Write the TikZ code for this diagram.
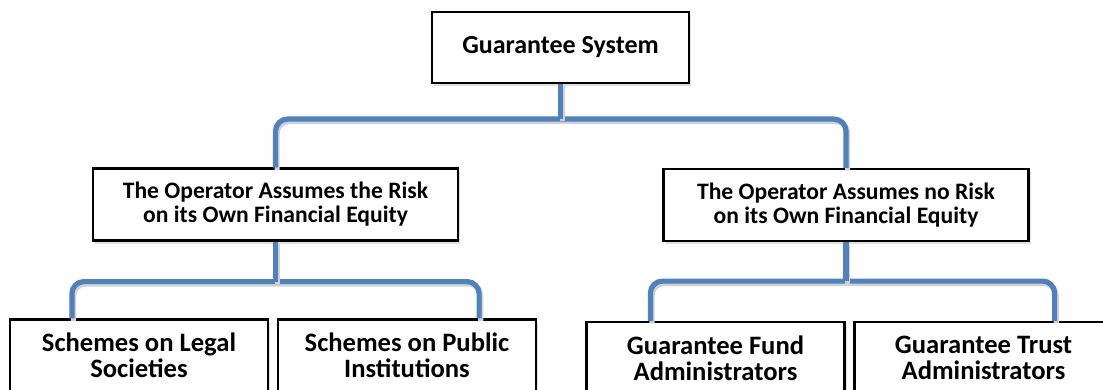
\documentclass[tikz,border=0pt]{standalone}
\usepackage{fontspec}
\setmainfont{Carlito}
\usetikzlibrary{calc,positioning,shadows}
\definecolor{LinkBlue}{HTML}{4F81BD}

\begin{document}
\begin{tikzpicture}[x=0.5pt,y=-0.5pt,
  box/.style={draw=black,line width=1.1pt,fill=white,inner sep=0pt,align=center,
    drop shadow={opacity=.25,shadow xshift=1.2pt,shadow yshift=-1.5pt}},
  topbox/.style={box,minimum width=128.5pt,minimum height=35.5pt,font=\bfseries\fontsize{13}{15}\selectfont},
  midbox/.style={box,minimum width=182.5pt,minimum height=36pt,font=\bfseries\fontsize{11.8}{12}\selectfont},
  leafbox/.style={box,minimum width=129pt,minimum height=36pt,font=\bfseries\fontsize{13.3}{13}\selectfont},
  link/.style={draw=LinkBlue,line width=2.6pt,rounded corners=6pt,
    preaction={draw=black!18,line width=2.6pt,transform canvas={shift={(0.8pt,-1.2pt)}}}}]
  \useasboundingbox (0,0) rectangle (1103,390);
  \clip (0,0) rectangle (1103,390);
  % boxes
  \node[topbox] (sys) at (560.5,47.5) {Guarantee System};
  \node[midbox] (opr) at (275.5,204.5) {The Operator Assumes the Risk\\on its Own Financial Equity};
  \node[midbox] (opn) at (846,205) {The Operator Assumes no Risk\\on its Own Financial Equity};
  \node[leafbox] (leg) at (139,355.5) {Schemes on Legal\\Societies};
  \node[leafbox] (pub) at (407,355.5) {Schemes on Public\\Institutions};
  \node[leafbox] (fund) at (715.5,358) {Guarantee Fund\\Administrators};
  \node[leafbox] (trust) at (983.5,358) {Guarantee Trust\\Administrators};
  % connectors
  \coordinate (j0) at ($(sys.south)+(0,35)$);
  \coordinate (j1) at ($(opr.south)+(0,40)$);
  \coordinate (j2) at ($(opn.south)+(0,39)$);
  \draw[link] (opr.north) |- (j0) -| (opn.north);
  \draw[link] (sys.south) -- (j0);
  \draw[link] ($(leg.north west)+(63,0)$) |- (j1) -| ($(pub.north east)+(-58,0)$);
  \draw[link] (opr.south) -- (j1);
  \draw[link] ($(fund.north west)+(65,0)$) |- (j2) -| ($(trust.north east)+(-59,0)$);
  \draw[link] (opn.south) -- (j2);
\end{tikzpicture}
\end{document}
